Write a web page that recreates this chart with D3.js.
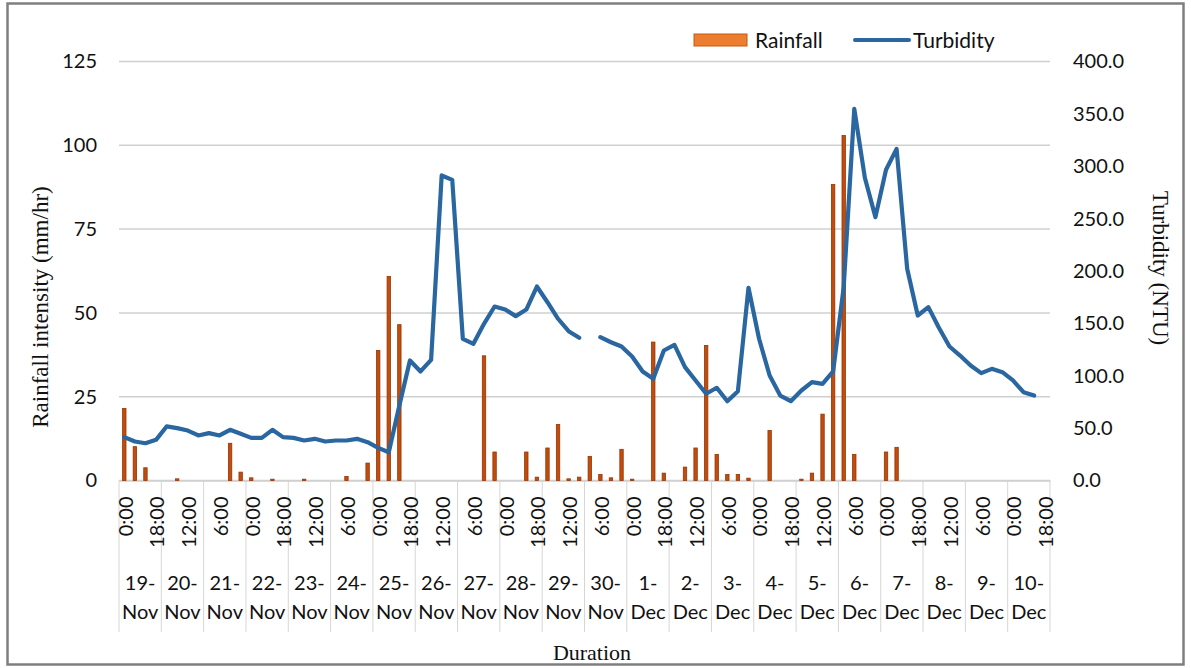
<!DOCTYPE html>
<html lang="en">
<head>
<meta charset="utf-8">
<script src="https://d3js.org/d3.v7.min.js"></script>
<title>Rainfall and Turbidity</title>
<style>
  body { margin: 0; background: #fff; }
  .tick text { font-family: Lato, "Open Sans", sans-serif; fill: #111; }
  .title { font-family: "Liberation Serif", "Times New Roman", serif; fill: #111; }
</style>
</head>
<body>
<script>
// days and 6-hourly slots
var days = ["19-Nov","20-Nov","21-Nov","22-Nov","23-Nov","24-Nov","25-Nov","26-Nov","27-Nov","28-Nov","29-Nov","30-Nov",
            "1-Dec","2-Dec","3-Dec","4-Dec","5-Dec","6-Dec","7-Dec","8-Dec","9-Dec","10-Dec"];
var times = ["0:00","6:00","12:00","18:00"];

// rainfall intensity (mm/hr), one value per 6-hour slot
var rainfall = [
  21.5,10.1,3.8,0, 0,0.5,0,0, 0,0,11.1,2.5, 0.8,0,0.4,0, 0,0.4,0,0, 0,1.2,0,5.2,
  38.8,60.9,46.5,0, 0,0,0,0, 0,0,37.2,8.5, 0,0,8.5,1.0, 9.7,16.7,0.5,1.0, 7.2,1.8,0.8,9.3,
  0.4,0,41.3,2.2, 0,4.0,9.7,40.3, 7.8,1.8,1.8,0.7, 0,14.9,0,0, 0.4,2.2,19.8,88.3,
  102.9,7.8,0,0, 8.5,9.9,0,0, 0,0,0,0, 0,0,0,0, 0,0,0,0
];

// turbidity (NTU), null = no reading
var turbidity = [
  41.4,37.2,35.6,38.8, 51.6,50.0,47.7,43.0, 45.2,43.0,48.4,44.6, 40.7,40.7,48.4,41.4,
  40.7,38.2,39.8,37.2, 38.2,38.2,39.8,36.6, 31.2,27.0,71.6,114.6, 104.1,115.2,291.2,287.0,
  135.3,130.5,149.6,166.1, 163.2,156.9,163.2,185.2, 170.2,154.4,142.5,136.2, null,136.8,132.0,127.9,
  118.4,104.1,97.1,124.1, 129.5,108.2,95.5,82.8, 88.5,75.7,85.3,184.0, 135.3,100.2,81.1,75.7,
  85.9,93.9,92.3,104.1, 184.6,354.8,289.0,251.4, 296.6,316.6,202.1,157.5, 165.5,145.8,127.9,119.3,
  109.8,102.5,106.6,103.4, 95.5,84.3,81.1,null
];

var leftTicks = [0,25,50,75,100,125];
var rightTicks = [0,50,100,150,200,250,300,350,400];

var width = 1191, height = 668;
var x0 = 119, x1 = 1050, yTop = 61.5, yBase = 480.5;

var svg = d3.select("body").append("svg")
  .attr("width", width).attr("height", height);

// frame
svg.append("rect")
  .attr("x", 7.5).attr("y", 3.5).attr("width", 1176).attr("height", 661)
  .attr("fill", "none").attr("stroke", "#7f7f7f").attr("stroke-width", 2.5);

var slots = d3.range(days.length * 4);
var x = d3.scaleBand().domain(slots).range([x0, x1]);
var xDay = d3.scaleBand().domain(d3.range(days.length)).range([x0, x1]);
var yL = d3.scaleLinear().domain([0,125]).range([yBase, yTop]);
var yR = d3.scaleLinear().domain([0,400]).range([yBase, yTop]);

// gridlines
svg.append("g").selectAll("line").data(leftTicks).enter().append("line")
  .attr("x1", x0).attr("x2", x1)
  .attr("y1", function(d){ return yL(d); }).attr("y2", function(d){ return yL(d); })
  .attr("stroke", "#d0d0d0").attr("stroke-width", 1.5);

// day separators
svg.append("g").selectAll("line").data(d3.range(days.length + 1)).enter().append("line")
  .attr("x1", function(d){ return x0 + d * xDay.bandwidth(); })
  .attr("x2", function(d){ return x0 + d * xDay.bandwidth(); })
  .attr("y1", yBase).attr("y2", 632)
  .attr("stroke", "#d6d6d6").attr("stroke-width", 1);

// left axis
var gl = svg.append("g").attr("transform", "translate(" + x0 + ",0)")
  .call(d3.axisLeft(yL).tickValues(leftTicks).tickSize(0).tickPadding(22));
gl.select(".domain").remove();
gl.selectAll("text").style("font-size", "20px");

// right axis
var gr = svg.append("g").attr("transform", "translate(" + x1 + ",0)")
  .call(d3.axisRight(yR).tickValues(rightTicks).tickFormat(d3.format(".1f")).tickSize(0).tickPadding(23));
gr.select(".domain").remove();
gr.selectAll("text").style("font-size", "20px");

// bottom axis: times, every 18 h
var gb = svg.append("g").attr("transform", "translate(0," + yBase + ")")
  .call(d3.axisBottom(x).tickValues(d3.range(0, slots.length, 3))
    .tickFormat(function(i){ return times[i % 4]; }).tickSize(0));
gb.select(".domain").attr("stroke", "#d0d0d0").attr("stroke-width", 1.5);
gb.selectAll("text")
  .style("font-size", "20px")
  .attr("transform", "rotate(-90)")
  .attr("text-anchor", "end")
  .attr("x", -16).attr("y", 0).attr("dy", "0.42em");

// day labels
var dl = svg.append("g").selectAll("text").data(days).enter().append("text")
  .attr("text-anchor", "middle")
  .style("font-family", "Lato, 'Open Sans', sans-serif")
  .style("font-size", "20px").attr("fill", "#111");
dl.append("tspan")
  .attr("x", function(d, i){ return xDay(i) + xDay.bandwidth() / 2; })
  .attr("y", 590)
  .text(function(d){ return d.split("-")[0] + "-"; });
dl.append("tspan")
  .attr("x", function(d, i){ return xDay(i) + xDay.bandwidth() / 2; })
  .attr("y", 619)
  .text(function(d){ return d.split("-")[1]; });

// bars
var bw = 3.4;
svg.append("g").selectAll("rect")
  .data(slots.filter(function(i){ return rainfall[i] > 0; }))
  .enter().append("rect")
  .attr("x", function(i){ return x(i) + x.bandwidth() / 2 - bw / 2; })
  .attr("y", function(i){ return yL(rainfall[i]); })
  .attr("width", bw)
  .attr("height", function(i){ return yBase - yL(rainfall[i]); })
  .attr("fill", "#c24c0c").attr("stroke", "#963505").attr("stroke-width", 0.8);

// turbidity line
var line = d3.line()
  .defined(function(i){ return turbidity[i] != null; })
  .x(function(i){ return x(i) + x.bandwidth() / 2; })
  .y(function(i){ return yR(turbidity[i]); });
svg.append("path").datum(slots)
  .attr("d", line)
  .attr("fill", "none").attr("stroke", "#2a66a0").attr("stroke-width", 4.2)
  .attr("stroke-linejoin", "round").attr("stroke-linecap", "round");

// axis titles
svg.append("text").attr("class", "title")
  .attr("transform", "translate(48,307) rotate(-90)")
  .attr("text-anchor", "middle").style("font-size", "23px")
  .text("Rainfall intensity (mm/hr)");
svg.append("text").attr("class", "title")
  .attr("transform", "translate(1153,268) rotate(90)")
  .attr("text-anchor", "middle").style("font-size", "23px")
  .text("Turbidity (NTU)");
svg.append("text").attr("class", "title")
  .attr("x", 592).attr("y", 660)
  .attr("text-anchor", "middle").style("font-size", "22px")
  .text("Duration");

// legend
var lg = svg.append("g");
lg.append("rect").attr("x", 694).attr("y", 34).attr("width", 53).attr("height", 12)
  .attr("fill", "#ed7d31").attr("stroke", "#c55a11").attr("stroke-width", 1);
lg.append("text").attr("x", 755).attr("y", 48)
  .style("font-family", "Lato, 'Open Sans', sans-serif").style("font-size", "21px").attr("fill", "#111")
  .text("Rainfall");
lg.append("line").attr("x1", 855).attr("x2", 909).attr("y1", 40).attr("y2", 40)
  .attr("stroke", "#2a66a0").attr("stroke-width", 4).attr("stroke-linecap", "round");
lg.append("text").attr("x", 913).attr("y", 48)
  .style("font-family", "Lato, 'Open Sans', sans-serif").style("font-size", "21px").attr("fill", "#111")
  .text("Turbidity");
</script>
</body>
</html>
